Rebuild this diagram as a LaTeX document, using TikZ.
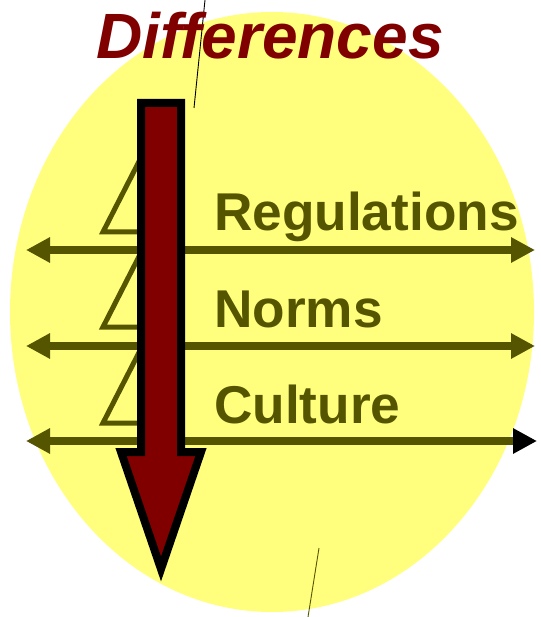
\documentclass[tikz,border=0pt]{standalone}
\usepackage{fontspec}
\setmainfont{Liberation Sans}
\usetikzlibrary{arrows.meta}
\definecolor{ellfill}{RGB}{255,255,125}
\definecolor{olivedark}{RGB}{85,85,0}
\definecolor{darkred}{RGB}{128,0,0}
\tikzset{
  hline/.style={draw=olivedark, line width=8pt, {Triangle[length=24pt,width=24pt]}-{Triangle[length=24pt,width=24pt]}},
  tri/.style={draw=olivedark, line width=5pt, line join=miter},
  label/.style={anchor=base west, inner sep=0pt, text=olivedark, font=\fontsize{53.2}{53.2}\selectfont\bfseries},
  thin/.style={draw=black, line width=0.9pt}
}
\begin{document}
\begin{tikzpicture}[x=1pt,y=-1pt]
\useasboundingbox (0,0) rectangle (540,617);
% ellipse
\fill[ellfill] (272,312) ellipse [x radius=262, y radius=300];
% thin lines
\coordinate (t1) at (205,0); \coordinate (t2) at (194,108);
\coordinate (b1) at (319,548); \coordinate (b2) at (308,617);
\draw[thin] (t1) -- (t2);
\draw[thin, draw=olivedark] (b1) -- (b2);
% title
\node[anchor=base west, inner sep=0pt, text=darkred, font=\fontsize{64}{64}\selectfont\bfseries\itshape] (title) at (96,59) {Differences};
% labels
\node[label] (reg) at (214,230) {Regulations};
\node[label] (nor) at (214,327) {Norms};
\node[label] (cul) at (214,423) {Culture};
% triangles
\draw[tri] (103,232) -- (150,140) -- (175,232) -- cycle;
\draw[tri] (103,327) -- (150,235) -- (175,327) -- cycle;
\draw[tri] (103,423) -- (150,331) -- (175,423) -- cycle;
% horizontal arrows
\coordinate (l1) at (26,250); \coordinate (r1) at (535,250);
\coordinate (l2) at (26,346); \coordinate (r2) at (535,346);
\coordinate (l3) at (26,441); \coordinate (r3) at (537,441);
\draw[hline] (l1) -- (r1);
\draw[hline] (l2) -- (r2);
\draw[draw=olivedark, line width=8pt, {Triangle[length=24pt,width=24pt]}-{Triangle[length=24pt,width=24pt,color=black,fill=black]}] (l3) -- (r3);
% big arrow
\draw[draw=black, fill=darkred, line width=8pt, line join=miter, miter limit=10]
  (141,103) -- (181,103) -- (181,452) -- (201,452) -- (161,569) -- (121,452) -- (141,452) -- cycle;
\end{tikzpicture}
\end{document}
